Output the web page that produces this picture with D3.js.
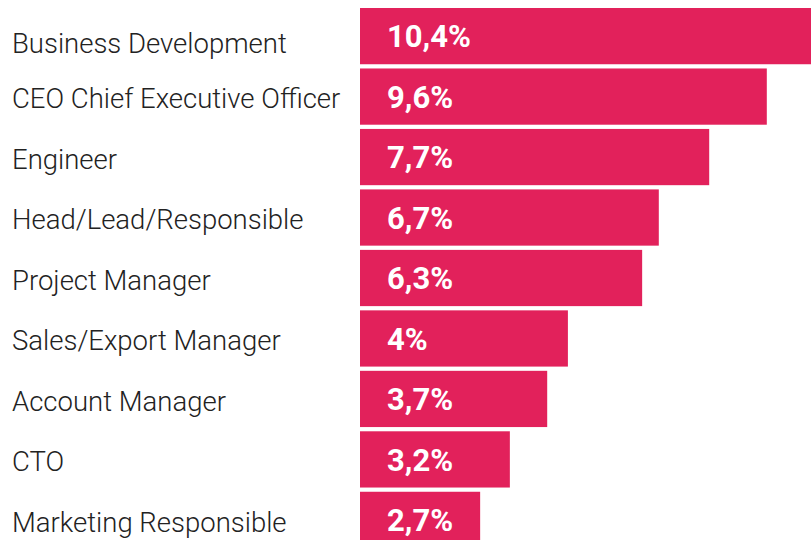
<!DOCTYPE html>
<html>
<head>
<meta charset="utf-8">
<script src="https://cdn.jsdelivr.net/npm/d3@7"></script>
<style>
  html, body { margin: 0; padding: 0; background: #fff; overflow: hidden; }
  .role-label { font-family: Roboto, sans-serif; font-weight: 300; font-size: 27.5px; fill: #222; }
  .value-label { font-family: Roboto, sans-serif; font-weight: 700; font-size: 31px; fill: #fff; }
</style>
</head>
<body>
<div id="chart"></div>
<script>
const roles = [
  "Business Development",
  "CEO Chief Executive Officer",
  "Engineer",
  "Head/Lead/Responsible",
  "Project Manager",
  "Sales/Export Manager",
  "Account Manager",
  "CTO",
  "Marketing Responsible",
];

// printed shares
const shareLabels = ["10,4%", "9,6%", "7,7%", "6,7%", "6,3%", "4%", "3,7%", "3,2%", "2,7%"];

// bar lengths as drawn in the picture (in % units)
const barValues = [10.4, 9.04, 7.76, 6.64, 6.27, 4.62, 4.16, 3.33, 2.67];

const BAR_COLOR = "#e2215b";

const width = 811;
const height = 540;

const svg = d3.select("#chart").append("svg")
  .attr("width", width)
  .attr("height", height);

const x = d3.scaleLinear()
  .domain([0, 10])
  .range([360, 810]);

const y = d3.scaleBand()
  .domain(roles)
  .range([8, 548])
  .paddingInner(0.07)
  .paddingOuter(0);

const rows = roles.map((role, i) => ({ role, value: barValues[i], label: shareLabels[i] }));

svg.append("g")
  .selectAll("rect")
  .data(rows)
  .enter()
  .append("rect")
  .attr("x", x(0))
  .attr("y", d => y(d.role))
  .attr("width", d => x(d.value) - x(0))
  .attr("height", y.bandwidth())
  .attr("fill", BAR_COLOR);

svg.append("g")
  .selectAll("text")
  .data(rows)
  .enter()
  .append("text")
  .attr("class", "value-label")
  .attr("x", x(0) + 27)
  .attr("y", d => y(d.role) + y.bandwidth() / 2)
  .attr("dy", "0.36em")
  .text(d => d.label);

svg.append("g")
  .selectAll("text")
  .data(rows)
  .enter()
  .append("text")
  .attr("class", "role-label")
  .attr("x", 12)
  .attr("y", (d, i) => y(d.role) + y.bandwidth() / 2 + (i === 0 ? 7 : 2))
  .attr("dy", "0.36em")
  .text(d => d.role);
</script>
</body>
</html>
